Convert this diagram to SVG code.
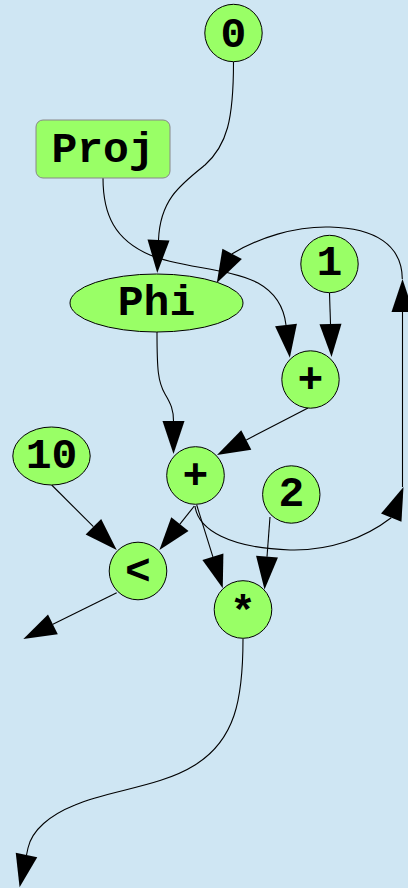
<svg xmlns="http://www.w3.org/2000/svg" width="408" height="888" viewBox="0 0 408 888">
<style>
.bg{fill:#cfe6f3}
.n{fill:#99ff66;stroke:#000;stroke-width:1}
.box{fill:#99ff66;stroke:#888;stroke-width:1}
.t{font-family:"Liberation Mono","DejaVu Sans Mono",monospace;font-weight:bold;font-size:43px;fill:#000;text-anchor:middle}
.e{fill:none;stroke:#000;stroke-width:1.1;marker-end:url(#ah)}
</style>
<defs>
<marker id="ah" markerUnits="userSpaceOnUse" markerWidth="34" markerHeight="24" refX="0" refY="11" orient="auto" overflow="visible">
<path d="M0,0 L33,11 L0,22 Z" fill="#000"/>
</marker>
</defs>
<rect class="bg" x="0" y="0" width="408" height="888"/>
<g id="edges">
<path class="e" d="M233.5,62 C233.5,120 227,145 205,165 C180,185 160,200 158.5,240"/>
<path class="e" d="M103,178 C103,215 115,240 150,255 C180,268 230,268 258,283 C276,293 284,308 286,325"/>
<path class="e" d="M329.5,293 L330.5,324"/>
<path class="e" d="M157,332 C157,370 158,382 165,394 C171,404 173.5,410 173.5,421"/>
<path class="e" d="M308,408 L246.3,439.9"/>
<path class="e" d="M51.7,485 L93.4,526.7"/>
<path class="e" d="M194.3,506 L179.9,524.2"/>
<path class="e" d="M196.7,505 L212.9,556.8"/>
<path class="e" d="M195,506 C198,530 230,548 290,550 C330,551 365,538 391.2,517.8 l0.04,-0.1"/>
<path class="e" d="M402.5,487 L402.5,312"/>
<path class="e" d="M402.3,279 C402,245 375,228 330,227 C295,226 258,238 232.2,253.8 l-0.05,0.095"/>
<path class="e" d="M270,517 L267,556.7"/>
<path class="e" d="M116.7,592.7 L52.9,624.3"/>
<path class="e" d="M243,639 C243,700 235,740 195,765 C160,787 110,790 75,805 C50,815 32,830 28,848 L26.5,855"/>
</g>
<g id="n0"><circle class="n" cx="233.5" cy="33" r="28.7"/><text class="t" x="233.5" y="47">0</text></g>
<g id="proj"><rect class="box" x="36" y="120" width="134" height="58" rx="7"/><text class="t" x="103" y="162">Proj</text></g>
<g id="phi"><ellipse class="n" cx="156.5" cy="303" rx="86.5" ry="29"/><text class="t" x="156.5" y="315">Phi</text></g>
<g id="n1"><circle class="n" cx="329.5" cy="264" r="28.7"/><text class="t" x="329.5" y="275">1</text></g>
<g id="plus1"><circle class="n" cx="310.5" cy="379.5" r="28.7"/><text class="t" x="310.5" y="392">+</text></g>
<g id="n10"><ellipse class="n" cx="51.5" cy="456" rx="38.7" ry="29"/><text class="t" x="51.5" y="468">10</text></g>
<g id="plus2"><circle class="n" cx="195.5" cy="475.5" r="28.8"/><text class="t" x="195.5" y="488">+</text></g>
<g id="n2"><circle class="n" cx="291.3" cy="494.5" r="28.7"/><text class="t" x="291.3" y="506">2</text></g>
<g id="lt"><circle class="n" cx="138" cy="571" r="28.8"/><text class="t" x="138" y="584">&lt;</text></g>
<g id="mul"><circle class="n" cx="243" cy="609.5" r="28.8"/><text class="t" x="243" y="625">*</text></g>
</svg>
